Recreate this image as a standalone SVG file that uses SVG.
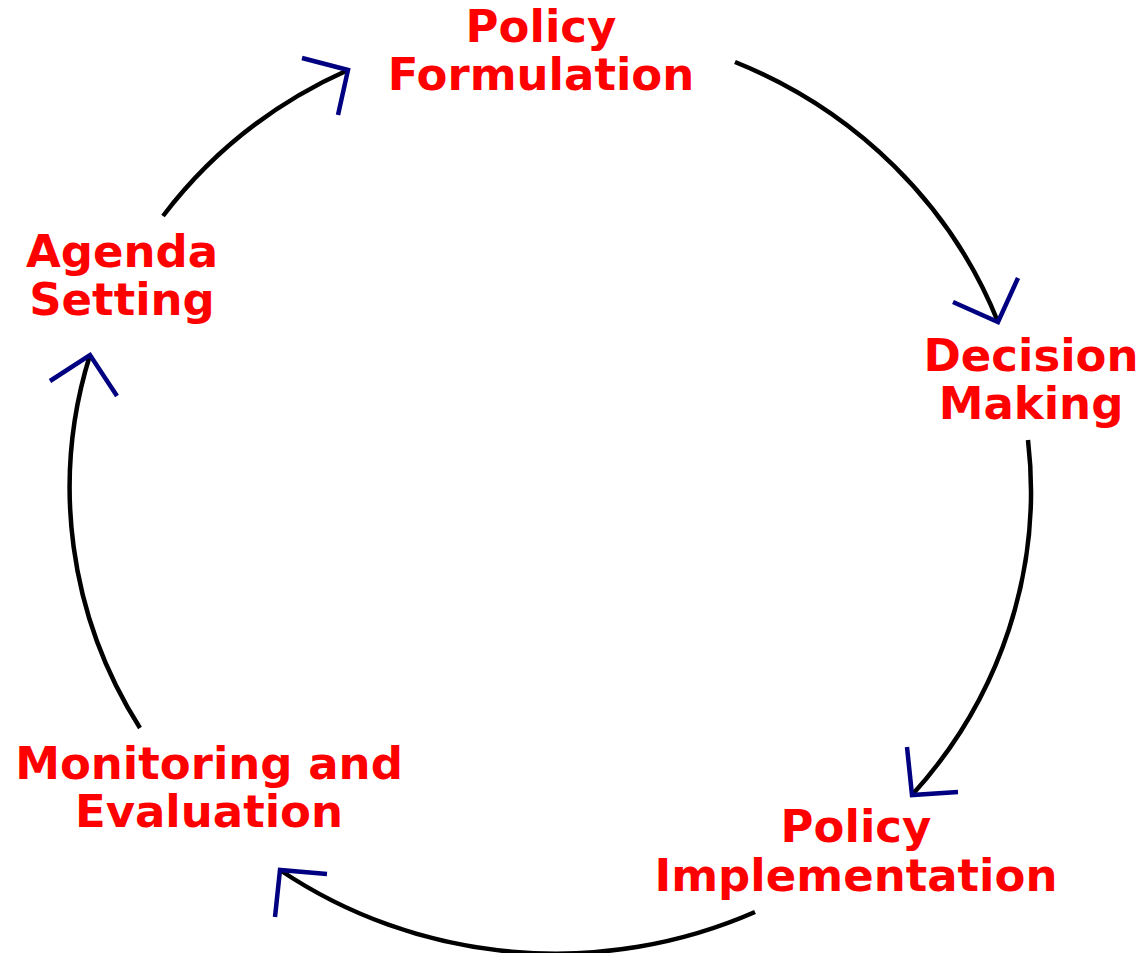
<svg xmlns="http://www.w3.org/2000/svg" width="1143" height="953" viewBox="0 0 1143 953">
<style>
.arc{fill:none;stroke:#000;stroke-width:4.5}
.head{fill:none;stroke:#000080;stroke-width:4.5;stroke-linecap:butt;stroke-linejoin:miter}
.lbl{font-family:"DejaVu Sans",sans-serif;font-weight:bold;font-size:45px;fill:#ff0000;text-anchor:middle}
</style>
<rect width="1143" height="953" fill="#fff"/>
<g id="connectors">
<path class="arc" d="M735,62 A480,461 0 0 1 998,322"/>
<polyline class="head" points="953,302 998,322 1018,278"/>
<path class="arc" d="M1028,440 A480,461 0 0 1 912,795"/>
<polyline class="head" points="907,747 912,795 958,792"/>
<path class="arc" d="M755,912 A480,461 0 0 1 280,870"/>
<polyline class="head" points="327,874 280,870 275,917"/>
<path class="arc" d="M140,728 A480,461 0 0 1 90,355"/>
<polyline class="head" points="50,381 90,355 117,396"/>
<path class="arc" d="M163,216 A480,461 0 0 1 348,70"/>
<polyline class="head" points="302,58 348,70 338,115"/>
</g>
<g id="policy-formulation"><text class="lbl" x="541" y="42">Policy</text><text class="lbl" x="541" y="90">Formulation</text></g>
<g id="decision-making"><text class="lbl" x="1031" y="371">Decision</text><text class="lbl" x="1031" y="419">Making</text></g>
<g id="policy-implementation"><text class="lbl" x="856" y="842">Policy</text><text class="lbl" x="856" y="891">Implementation</text></g>
<g id="monitoring-evaluation"><text class="lbl" x="209" y="779">Monitoring and</text><text class="lbl" x="209" y="827">Evaluation</text></g>
<g id="agenda-setting"><text class="lbl" x="122" y="267">Agenda</text><text class="lbl" x="122" y="315">Setting</text></g>
</svg>
